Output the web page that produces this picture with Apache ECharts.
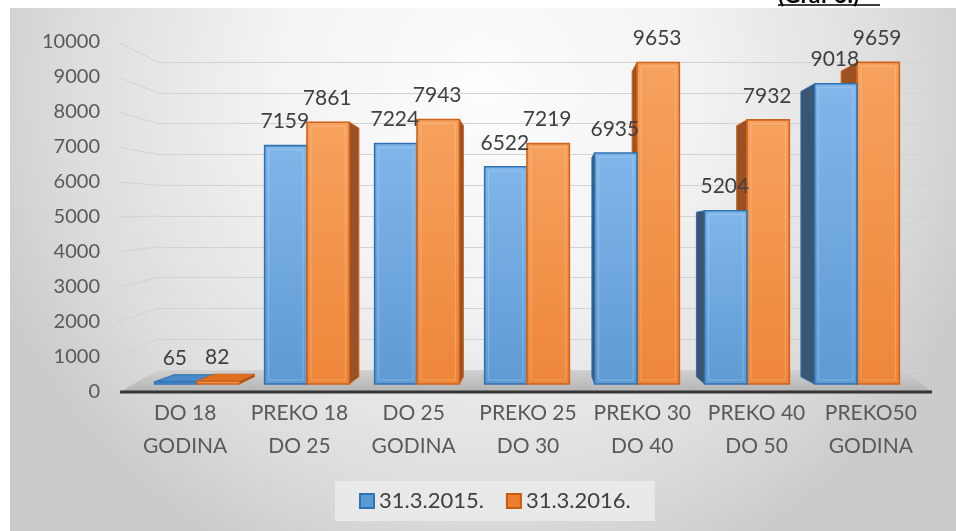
<!DOCTYPE html>
<html>
<head>
<meta charset="utf-8">
<script src="https://cdn.jsdelivr.net/npm/echarts@6/dist/echarts.min.js"></script>
<style>
  html, body { margin: 0; padding: 0; background: #ffffff; }
  #chart { width: 956px; height: 531px; }
</style>
</head>
<body>
<div id="chart"></div>
<script>
// ---------- data ----------
const categories = ['DO 18\nGODINA', 'PREKO 18\nDO 25', 'DO 25\nGODINA', 'PREKO 25\nDO 30', 'PREKO 30\nDO 40', 'PREKO 40\nDO 50', 'PREKO50\nGODINA'];
const seriesNames = ['31.3.2015.', '31.3.2016.'];
const values2015 = [65, 7159, 7224, 6522, 6935, 5204, 9018];
const values2016 = [82, 7861, 7943, 7219, 9653, 7932, 9659];
const yTicks = [0, 1000, 2000, 3000, 4000, 5000, 6000, 7000, 8000, 9000, 10000];

// ---------- styling constants ----------
const FONT = 'Lato, "Liberation Sans", sans-serif';
const VX = 540, VY = 240, S = 0.95; // perspective for bar depth
const BLUE = {
  front: { type: 'linear', x: 0, y: 0, x2: 0, y2: 1, colorStops: [{ offset: 0, color: '#80b6ea' }, { offset: 1, color: '#5f9ad4' }] },
  border: '#2f72b2', side: '#3a5673', top: '#4a88c8'
};
const ORANGE = {
  front: { type: 'linear', x: 0, y: 0, x2: 0, y2: 1, colorStops: [{ offset: 0, color: '#f6a15d' }, { offset: 1, color: '#ee8639' }] },
  border: '#d0621c', side: '#9a5224', top: '#e0701f'
};

const chartData = categories.map((c, i) => [i, values2015[i], values2016[i]]);

function back(p) { return [VX + S * (p[0] - VX), VY + S * (p[1] - VY)]; }

function barShapes(x0, x1, yT, yB, st) {
  const out = [];
  if (x1 < VX) {
    out.push({ type: 'polygon', shape: { points: [[x1, yT], [x1, yB], back([x1, yB]), back([x1, yT])] }, style: { fill: st.side, stroke: st.border, lineWidth: 1 } });
  } else if (x0 > VX) {
    out.push({ type: 'polygon', shape: { points: [[x0, yT], [x0, yB], back([x0, yB]), back([x0, yT])] }, style: { fill: st.side, stroke: st.border, lineWidth: 1 } });
  }
  if (yT > VY) {
    out.push({ type: 'polygon', shape: { points: [[x0, yT], [x1, yT], back([x1, yT]), back([x0, yT])] }, style: { fill: st.top, stroke: st.border, lineWidth: 1 } });
  }
  out.push({ type: 'rect', shape: { x: x0, y: yT, width: x1 - x0, height: Math.max(yB - yT, 0.5) }, style: { fill: st.front, stroke: st.border, lineWidth: 1.6 } });
  if (yB - yT > 12) {
    out.push({ type: 'rect', shape: { x: x0 + 4, y: yT + 4, width: x1 - x0 - 8, height: yB - yT - 8 }, style: { fill: 'none', stroke: 'rgba(255,255,255,0.22)', lineWidth: 1 } });
  }
  return out;
}

function renderItem(params, api) {
  const i = api.value(0);
  const v1 = api.value(1), v2 = api.value(2);
  const base = api.coord([i, 0]);
  const band = api.size([1, 0])[0];
  const w = band * 0.385;
  const xc = base[0], yB = base[1];
  const yT1 = api.coord([i, v1])[1];
  const yT2 = api.coord([i, v2])[1];
  const blue = barShapes(xc - w, xc, yT1, yB, BLUE);
  const orange = barShapes(xc, xc + w, yT2, yB, ORANGE);
  const children = xc < VX ? blue.concat(orange) : orange.concat(blue);
  const lbl = (x, y, v) => ({
    type: 'text', z2: 100,
    style: { x: x, y: y, text: String(v), textAlign: 'center', textVerticalAlign: 'middle', fill: '#404040', font: '21px ' + FONT }
  });
  children.push(lbl(xc - w / 2 - 1, yT1 - 24, v1));
  children.push(lbl(xc + w / 2 - 1, yT2 - 24, v2));
  return { type: 'group', children: children };
}

const chart = echarts.init(document.getElementById('chart'), null, { renderer: 'canvas' });

const option = {
  backgroundColor: '#ffffff',
  animation: false,
  textStyle: { fontFamily: FONT },
  grid: [
    { left: 142, right: 44, top: 51, bottom: 147 },   // bars (front plane)
    { left: 128, right: 28, top: 42, bottom: 139 },   // axis labels
    { left: 158, right: 30, top: 62, bottom: 161 }    // back wall grid lines
  ],
  xAxis: [
    { gridIndex: 0, type: 'category', data: categories, show: false },
    { gridIndex: 1, type: 'category', data: categories, axisLine: { show: false }, axisTick: { show: false },
      axisLabel: { fontSize: 21, color: '#595959', lineHeight: 33, margin: 5, fontFamily: FONT, interval: 0 } },
    { gridIndex: 2, type: 'category', data: categories, show: false }
  ],
  yAxis: [
    { gridIndex: 0, type: 'value', min: 0, max: 10000, interval: 1000, show: false },
    { gridIndex: 1, type: 'value', min: 0, max: 10000, interval: 1000,
      axisLine: { show: false }, axisTick: { show: false }, splitLine: { show: false },
      axisLabel: { fontSize: 20, color: '#595959', margin: 28, fontFamily: FONT, formatter: v => String(v) } },
    { gridIndex: 2, type: 'value', min: 0, max: 10000, interval: 1000,
      axisLine: { show: false }, axisTick: { show: false }, axisLabel: { show: false },
      splitLine: { lineStyle: { color: '#d2d2d2', width: 1 } } }
  ],
  legend: {
    data: seriesNames,
    left: 335, top: 481,
    padding: [9, 24, 9, 24],
    backgroundColor: '#e9e9e9',
    itemWidth: 14, itemHeight: 14, itemGap: 22,
    icon: 'rect',
    textStyle: { fontSize: 22, color: '#404040', fontFamily: FONT }
  },
  series: [
    { name: seriesNames[0], type: 'bar', xAxisIndex: 0, yAxisIndex: 0, data: [],
      itemStyle: { color: '#5b9bd5', borderColor: '#2f72b2', borderWidth: 1.5 } },
    { name: seriesNames[1], type: 'bar', xAxisIndex: 0, yAxisIndex: 0, data: [],
      itemStyle: { color: '#ed7d31', borderColor: '#c55a11', borderWidth: 1.5 } },
    { name: 'bars3d', type: 'custom', xAxisIndex: 0, yAxisIndex: 0, renderItem: renderItem,
      data: chartData, encode: { x: 0, y: [1, 2] }, z: 5 }
  ],
  graphic: [
    { type: 'rect', z: -10, shape: { x: 10, y: 8, width: 946, height: 523 },
      style: { fill: { type: 'radial', x: 0.5, y: 0.15, r: 1.0, colorStops: [
        { offset: 0, color: '#fdfdfd' }, { offset: 0.4, color: '#f3f3f3' }, { offset: 0.8, color: '#dcdcdc' }, { offset: 1, color: '#cbcbcb' }] } } },
    { type: 'polygon', z: 1, shape: { points: [[120, 392], [156, 371], [905, 371], [932, 392]] },
      style: { fill: { type: 'linear', x: 0, y: 0, x2: 0, y2: 1, colorStops: [{ offset: 0, color: '#cfcfcf' }, { offset: 1, color: '#b4b4b4' }] } } },
    { type: 'line', z: 6, shape: { x1: 120, y1: 392, x2: 932, y2: 392 }, style: { stroke: '#353535', lineWidth: 3 } },
    { type: 'text', z: 6, style: { x: 778, y: -16, text: '(Graf 3.)', font: 'bold 23px ' + FONT, fill: '#000' } },
    { type: 'line', z: 6, shape: { x1: 778, y1: 5, x2: 880, y2: 5 }, style: { stroke: '#000', lineWidth: 1.5 } }
  ]
};
chart.setOption(option);

// slanted connectors between the label scale and the back-wall scale
const connectors = yTicks.slice(1).map(v => {
  const y1 = chart.convertToPixel({ yAxisIndex: 1 }, v);
  const y2 = chart.convertToPixel({ yAxisIndex: 2 }, v);
  return { type: 'line', z: 0, shape: { x1: 118, y1: y1, x2: 158, y2: y2 }, style: { stroke: '#d2d2d2', lineWidth: 1 } };
});
chart.setOption({ graphic: option.graphic.concat(connectors) });
</script>
</body>
</html>
